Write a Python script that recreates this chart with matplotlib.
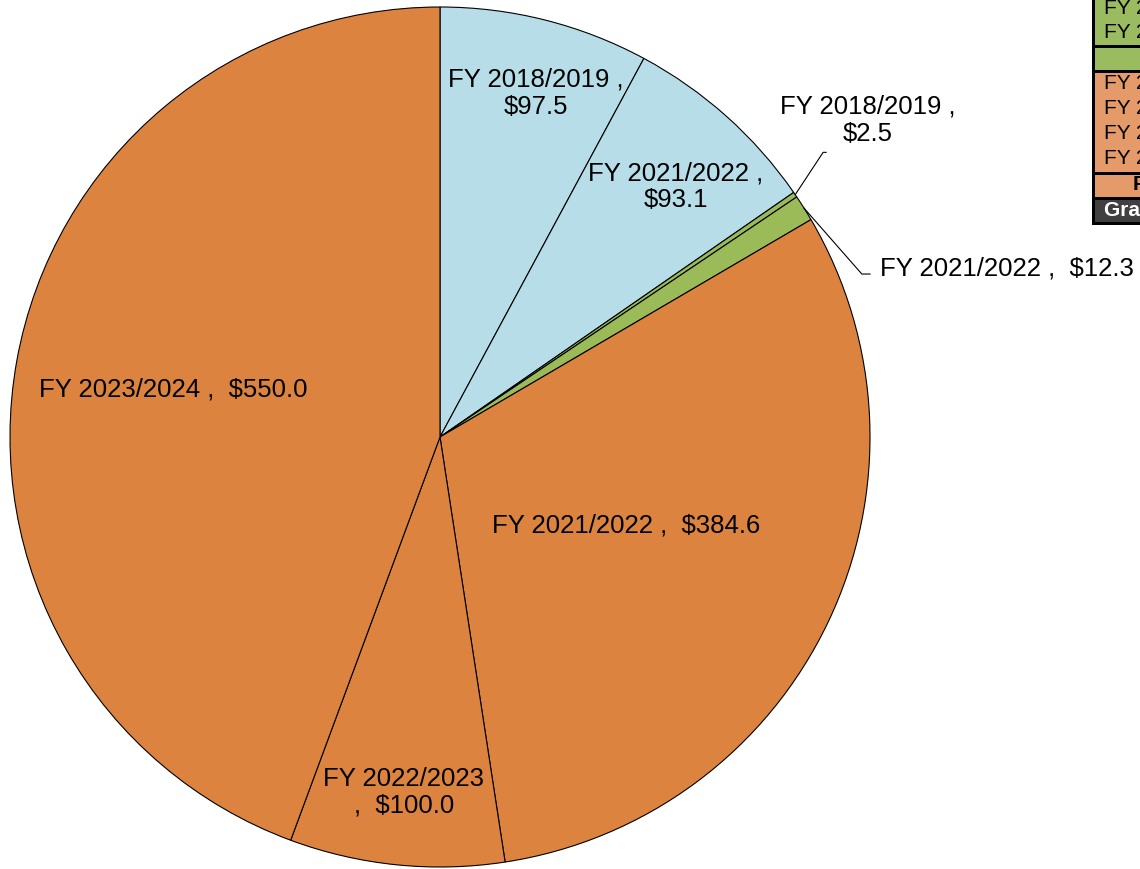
import matplotlib
matplotlib.use("Agg")
import matplotlib.pyplot as plt
import numpy as np
from matplotlib.patches import Rectangle

plt.rcParams['font.family'] = ['Liberation Sans', 'DejaVu Sans']

# ---- data ----
years = ["FY 2018/2019", "FY 2021/2022", "FY 2018/2019", "FY 2021/2022",
         "FY 2021/2022", "FY 2022/2023", "FY 2023/2024"]
values = [97.5, 93.1, 2.5, 12.3, 384.6, 100.0, 550.0]
groups = ["blue", "blue", "green", "green", "orange", "orange", "orange"]

group_colors = {"blue": "#b7dde8", "green": "#9bbb59", "orange": "#dc843f"}

table_labels = ["FY 2018/2019   $2.5", "FY 2021/2022   $12.3", "",
                "FY 2021/2022   $384.6", "FY 2022/2023   $100.0",
                "FY 2023/2024   $550.0", "FY 2024/2025", "Fund Total", "Grand Total"]

fig = plt.figure(figsize=(11.4, 8.69), dpi=100)
W, H = 1140, 869
cx, cy, R = 440, 437, 430
ax = fig.add_axes([(cx - R) / W, (H - cy - R) / H, 2 * R / W, 2 * R / H])
ax.axis('off')

wedges, _ = ax.pie(values, colors=[group_colors[g] for g in groups],
                   startangle=90, counterclock=False, radius=1,
                   wedgeprops=dict(edgecolor='black', linewidth=0.8))
ax.set_xlim(-1, 1)
ax.set_ylim(-1, 1)
ax.set_aspect('equal')

fs = 18.5
# (radius fraction, angle offset in degrees, format)
inside = {0: (0.83, -1.5, "{y} ,\n${v:.1f}"),
          1: (0.80, -1.5, "{y} ,\n${v:.1f}"),
          4: (0.48, 0.0, "{y} ,  ${v:.1f}"),
          5: (0.83, 0.0, "{y}\n,  ${v:.1f}"),
          6: (0.63, 0.0, "{y} ,  ${v:.1f}")}
for i, (r, off, fmt) in inside.items():
    w = wedges[i]
    ang = np.deg2rad((w.theta1 + w.theta2) / 2 + off)
    ax.text(r * np.cos(ang), r * np.sin(ang), fmt.format(y=years[i], v=values[i]),
            ha='center', va='center', fontsize=fs, linespacing=1.15)

# outside labels with leader lines
w = wedges[2]
ang = np.deg2rad((w.theta1 + w.theta2) / 2)
p0 = (np.cos(ang), np.sin(ang))
ax.plot([p0[0], 0.891, 0.898], [p0[1], 0.662, 0.662], color='black', lw=0.8, clip_on=False)
ax.text(0.995, 0.737, f"{years[2]} ,\n${values[2]:.1f}", ha='center', va='center',
        fontsize=fs, linespacing=1.15, clip_on=False)

w = wedges[3]
ang = np.deg2rad((w.theta1 + w.theta2) / 2)
p0 = (np.cos(ang), np.sin(ang))
ax.plot([p0[0], 0.981, 1.0], [p0[1], 0.379, 0.379], color='black', lw=0.8, clip_on=False)
ax.text(1.023, 0.393, f"{years[3]} ,  ${values[3]:.1f}", ha='left', va='center',
        fontsize=fs, clip_on=False)

# ---- partial table at top-right ----
tx = fig.add_axes([0, 0, 1, 1], zorder=5)
tx.set_xlim(0, W)
tx.set_ylim(H, 0)
tx.axis('off')
tx.patch.set_alpha(0)
tx.add_patch(Rectangle((1092, -10), 60, 235, facecolor='black', edgecolor='none'))
cells = [(-10, 45, "#9bbb61"), (47.5, 70, "#9bbb61"), (72.5, 172, "#e49a69"),
         (174.5, 197, "#e49a69"), (199.5, 222, "#404040")]
for y0, y1, c in cells:
    tx.add_patch(Rectangle((1095, y0), 60, y1 - y0, facecolor=c, edgecolor='none'))
row_y = [8, 32, 59, 83, 108, 133, 158]
for lab, y in zip(table_labels[:7], row_y):
    if lab:
        tx.text(1104, y, lab, ha='left', va='center', fontsize=15)
tx.text(1133, 185, table_labels[7], ha='left', va='center', fontsize=15, fontweight='bold')
tx.text(1104, 210, table_labels[8], ha='left', va='center', fontsize=15,
        fontweight='bold', color='white')

fig.savefig("out.png", dpi=100)
